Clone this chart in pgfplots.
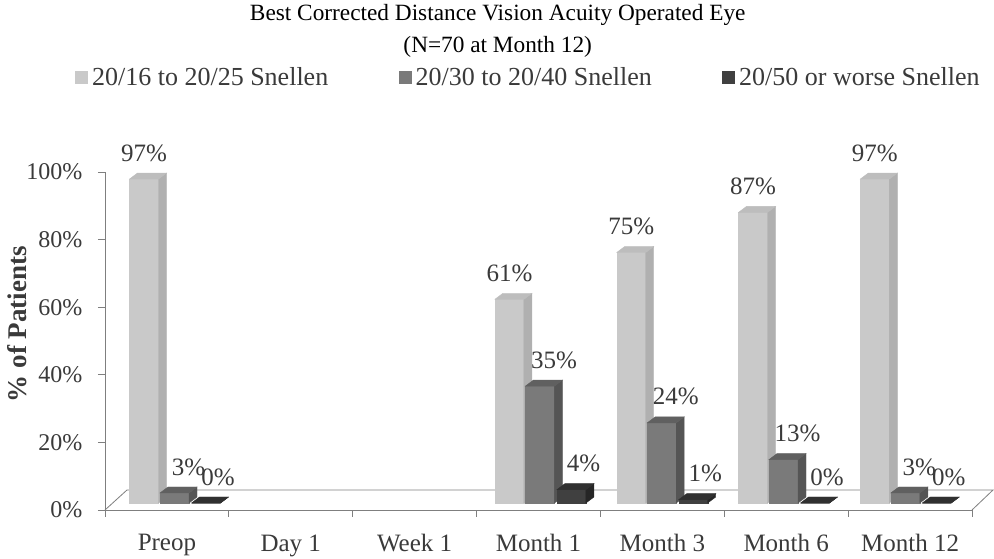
\documentclass[border=0pt]{standalone}
\usepackage{pgfplots}
\pgfplotsset{compat=1.18}
\usepackage{pgfplotstable}
\usepackage{fontspec}
\setmainfont{Liberation Serif}

\definecolor{lf}{HTML}{C9C9C9}
\definecolor{ls}{HTML}{B0B0B0}
\definecolor{lt}{HTML}{BDBDBD}
\definecolor{mf}{HTML}{7A7A7A}
\definecolor{ms}{HTML}{555555}
\definecolor{mt}{HTML}{606060}
\definecolor{df}{HTML}{404040}
\definecolor{ds}{HTML}{262626}
\definecolor{dt}{HTML}{303030}
\definecolor{txt}{HTML}{3A3A3A}
\definecolor{axc}{HTML}{7F7F7F}

\pgfdeclareplotmark{nothing}{}

\pgfplotstableread{
cat v
0 97
3 61
4 75
5 87
6 97
}\tablight
\pgfplotstableread{
cat v
0 3
3 35
4 24
5 13
6 3
}\tabmid
\pgfplotstableread{
cat v
0 0
3 4
4 1
5 0
6 0
}\tabdark

\pgfplotsset{
  bar3d/.style n args={5}{%
    only marks, scatter, mark=nothing, forget plot,
    visualization depends on={rawy \as \barval},
    visualization depends on={rawx \as \barcat},
    scatter/@pre marker code/.code={%
      \pgfkeys{/pgf/fpu=false}%
      \pgfmathsetmacro\xc{#1+7.6-2.06*\barcat}%
      \pgfmathsetmacro\xl{\xc-14.5}%
      \pgfmathsetmacro\xr{\xc+14.5}%
      \pgfmathsetmacro\yt{7-0.04*\barval}%
      \pgfmathsetmacro\yb{7-3.38*\barval}%
      \fill[#2] (\xl pt,\yb pt) rectangle (\xr pt,\yt pt);
      \fill[#3] (\xr pt,\yb pt) -- (\xr pt+8pt,\yb pt+6pt) -- (\xr pt+8pt,\yt pt+6pt) -- (\xr pt,\yt pt) -- cycle;
      \fill[#4] (\xl pt,\yt pt) -- (\xl pt+8pt,\yt pt+6pt) -- (\xr pt+8pt,\yt pt+6pt) -- (\xr pt,\yt pt) -- cycle;
      \node[font=\fontsize{25}{25}\selectfont, text=txt, anchor=center, inner sep=0pt] at (\xc pt+#5 pt, \yt pt+26pt) {\pgfmathprintnumber{\barval}\%};
    },
    scatter/@post marker code/.code={},
  },
}

\begin{document}
\begin{tikzpicture}
\useasboundingbox (-105pt,-49pt) rectangle (889pt,510pt);
\begin{axis}[
  scale only axis, width=867pt, height=338pt,
  xmin=-0.5, xmax=6.5, ymin=0, ymax=100,
  clip=false,
  axis lines*=left,
  axis line style={axc, line width=0.8pt},
  tick style={axc, line width=0.8pt},
  tick align=outside, major tick length=7pt,
  xtick={-0.5,0.5,...,6.5}, xticklabels={},
  extra x ticks={0,1,2,3,4,5,6},
  extra x tick labels={Preop,Day 1,Week 1,Month 1,Month 3,Month 6,Month 12},
  extra x tick style={major tick length=0pt, xticklabel style={yshift=-21pt}},
  xticklabel style={font=\fontsize{25}{25}\selectfont, text=txt},
  ytick={0,20,...,100},
  yticklabel={\pgfmathprintnumber{\tick}\%},
  yticklabel style={font=\fontsize{24}{24}\selectfont, text=txt, xshift=-12pt},
  /pgf/number format/assume math mode=true,
  every axis y label/.style={at={(axis description cs:-0.1015,0.55)}, rotate=90, anchor=center},
  ylabel={\textbf{\% of Patients}},
  ylabel style={font=\fontsize{27}{27}\selectfont, text=txt},
  title={Best Corrected Distance Vision Acuity Operated Eye\\(N=70 at Month 12)},
  title style={at={(axis description cs:0.453,1)}, anchor=north, yshift=165pt, align=center, font=\fontsize{23.3}{32}\selectfont, text=black},
  legend columns=3,
  legend style={at={(axis description cs:0,1)}, anchor=west, xshift=-30pt, yshift=95pt,
    draw=none, fill=none, font=\fontsize{26}{26}\selectfont, text=txt,
    inner xsep=0pt, nodes={inner xsep=4.5pt},
    /tikz/every even column/.append style={column sep=66pt}},
]
\draw[axc, line width=0.8pt] (axis cs:-0.5,0) -- ++(22pt,20pt) -- ++(866pt,0pt) -- (axis cs:6.5,0);
\addplot[bar3d={-30.5}{lf}{ls}{lt}{0}] table[x=cat,y=v] {\tablight};
\addplot[bar3d={0}{mf}{ms}{mt}{14}] table[x=cat,y=v] {\tabmid};
\addplot[bar3d={31.5}{df}{ds}{dt}{12}] table[x=cat,y=v] {\tabdark};
\addlegendimage{legend image code/.code={\fill[lf] (0pt,-6pt) rectangle (12pt,6pt);}}
\addlegendentry{20/16 to 20/25 Snellen}
\addlegendimage{legend image code/.code={\fill[mf] (0pt,-6pt) rectangle (12pt,6pt);}}
\addlegendentry{20/30 to 20/40 Snellen}
\addlegendimage{legend image code/.code={\fill[df] (0pt,-6pt) rectangle (12pt,6pt);}}
\addlegendentry{20/50 or worse Snellen}
\end{axis}
\end{tikzpicture}
\end{document}
